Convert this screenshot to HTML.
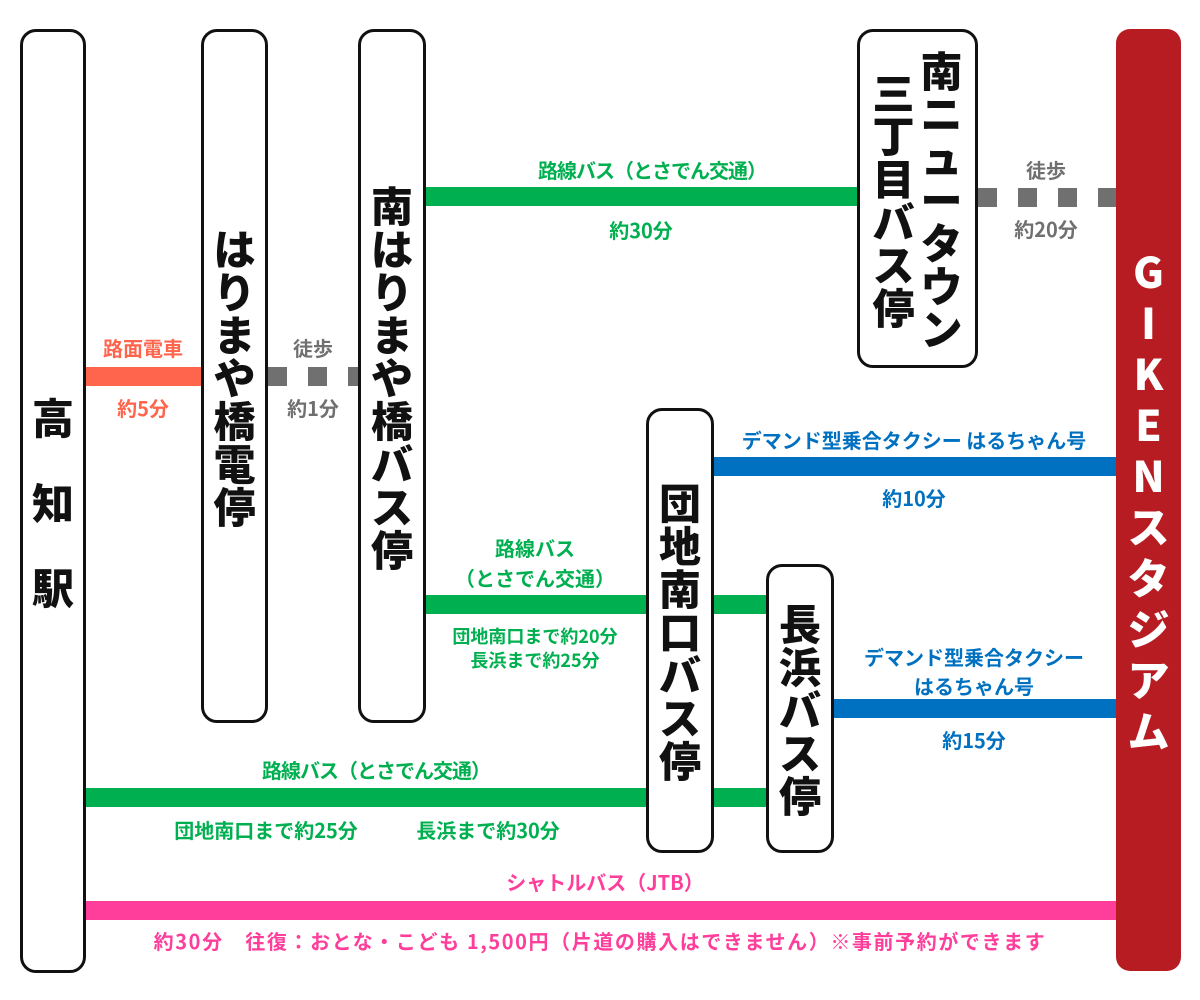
<!DOCTYPE html>
<html><head><meta charset="utf-8"><style>
body{margin:0;width:1200px;height:1000px;background:#fff;position:relative;overflow:hidden;font-family:"Liberation Sans","Noto Sans CJK JP",sans-serif;}
.box{position:absolute;box-sizing:border-box;border:3px solid #111;border-radius:16px;background:#fff;display:flex;flex-direction:column;align-items:center;justify-content:center;font-family:"Noto Sans CJK JP",sans-serif;font-weight:900;font-size:42px;color:#111;}
.box span{display:block;height:43px;line-height:43px;}
.ln{position:absolute;height:19px;}
.g{background:#00b050}.b{background:#0070c0}.o{background:#ff644c}.p{background:#ff3d9a}
.d{position:absolute;height:19px;background:repeating-linear-gradient(90deg,#707070 0 19px,transparent 19px 40px);}
.t{position:absolute;transform:translateX(-50%);white-space:nowrap;font-weight:bold;font-size:20px;line-height:22px;text-align:center;font-family:"Noto Sans CJK JP",sans-serif;}
.cg{color:#00b050}.cb{color:#0070c0}.co{color:#ff644c}.cgr{color:#707070}.cp{color:#ff3d9a}
</style></head><body>
<div class="ln o" style="left:85px;top:367px;width:117px"></div>
<div class="d" style="left:268px;top:367px;width:91px"></div>
<div class="ln g" style="left:425px;top:187px;width:432px"></div>
<div class="d" style="left:978px;top:188px;width:138px"></div>
<div class="ln b" style="left:713px;top:457px;width:403px"></div>
<div class="ln g" style="left:425px;top:595px;width:342px"></div>
<div class="ln b" style="left:833px;top:699px;width:283px"></div>
<div class="ln g" style="left:85px;top:788px;width:682px"></div>
<div class="ln p" style="left:85px;top:901px;width:1031px"></div>

<div class="box" style="left:20px;top:29px;width:66px;height:944px;"><span style="height:85px;line-height:85px">高</span><span style="height:85px;line-height:85px">知</span><span style="height:85px;line-height:85px">駅</span></div>
<div class="box" style="left:201px;top:29px;width:67px;height:694px;"><span>は</span><span>り</span><span>ま</span><span>や</span><span>橋</span><span>電</span><span>停</span></div>
<div class="box" style="left:358px;top:29px;width:68px;height:694px;"><span>南</span><span>は</span><span>り</span><span>ま</span><span>や</span><span>橋</span><span>バ</span><span>ス</span><span>停</span></div>
<div class="box" style="left:857px;top:29px;width:121px;height:339px;flex-direction:row;align-items:center;">
 <div style="display:flex;flex-direction:column;align-items:center;margin-right:6px"><span>三</span><span>丁</span><span>目</span><span>バ</span><span>ス</span><span>停</span></div>
 <div style="display:flex;flex-direction:column;align-items:center"><span>南</span><span>ニ</span><span>ュ</span><span>ー</span><span>タ</span><span>ウ</span><span>ン</span></div>
</div>
<div class="box" style="left:646px;top:408px;width:68px;height:445px;"><span>団</span><span>地</span><span>南</span><span>口</span><span>バ</span><span>ス</span><span>停</span></div>
<div class="box" style="left:766px;top:564px;width:68px;height:289px;"><span>長</span><span>浜</span><span>バ</span><span>ス</span><span>停</span></div>
<div class="box" style="left:1116px;top:29px;width:65px;height:942px;border:none;background:#b71c22;color:#fff;border-radius:14px;"><span style="height:51px;line-height:51px">G</span><span style="height:51px;line-height:51px">I</span><span style="height:51px;line-height:51px">K</span><span style="height:51px;line-height:51px">E</span><span style="height:51px;line-height:51px">N</span><span style="height:51px;line-height:51px">ス</span><span style="height:51px;line-height:51px">タ</span><span style="height:51px;line-height:51px">ジ</span><span style="height:51px;line-height:51px">ア</span><span style="height:51px;line-height:51px">ム</span></div>

<div class="t co" style="left:143px;top:337px">路面電車</div>
<div class="t co" style="left:143px;top:397px">約5分</div>
<div class="t cgr" style="left:313px;top:337px">徒歩</div>
<div class="t cgr" style="left:313px;top:397px">約1分</div>
<div class="t cg" style="left:652px;top:159px;letter-spacing:-1px">路線バス（とさでん交通）</div>
<div class="t cg" style="left:641px;top:219px">約30分</div>
<div class="t cgr" style="left:1046px;top:159px">徒歩</div>
<div class="t cgr" style="left:1046px;top:218px">約20分</div>
<div class="t cb" style="left:914px;top:429px">デマンド型乗合タクシー はるちゃん号</div>
<div class="t cb" style="left:914px;top:487px">約10分</div>
<div class="t cg" style="left:535px;top:537px">路線バス</div>
<div class="t cg" style="left:535px;top:567px">（とさでん交通）</div>
<div class="t cg" style="left:535px;top:624px;font-size:18px;line-height:24px">団地南口まで約20分<br>長浜まで約25分</div>
<div class="t cb" style="left:974px;top:642px;line-height:29px">デマンド型乗合タクシー<br>はるちゃん号</div>
<div class="t cb" style="left:974px;top:729px">約15分</div>
<div class="t cg" style="left:376px;top:759px;letter-spacing:-1px">路線バス（とさでん交通）</div>
<div class="t cg" style="left:266px;top:819px">団地南口まで約25分</div>
<div class="t cg" style="left:488px;top:819px">長浜まで約30分</div>
<div class="t cp" style="left:605px;top:871px">シャトルバス（JTB）</div>
<div class="t cp" style="left:600px;top:930px;letter-spacing:1.6px">約30分　往復：おとな・こども 1,500円（片道の購入はできません）※事前予約ができます</div>
</body></html>
